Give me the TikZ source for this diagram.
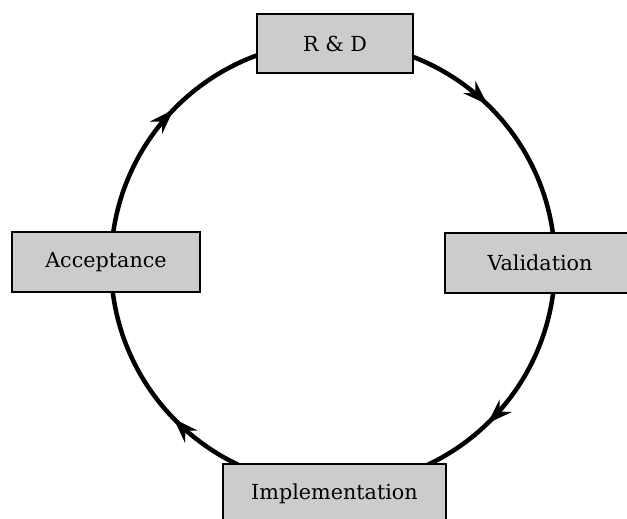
\documentclass[tikz,border=0pt]{standalone}
\usepackage{fontspec}
\setmainfont{DejaVu Serif}
\usetikzlibrary{arrows.meta,decorations.markings}
\definecolor{boxgray}{HTML}{CCCCCC}
\begin{document}
\begin{tikzpicture}[x=1pt,y=1pt,
  stage/.style={draw=black, line width=1.6pt, fill=boxgray,
    font=\fontsize{20.7}{25}\selectfont, minimum height=60pt, inner sep=0pt},
  cyclearc/.style={line width=4.5pt, postaction=decorate,
    decoration={markings, mark=at position #1 with {\arrow{Stealth[length=25pt,width=17pt,inset=8pt]}}}}
]
\useasboundingbox (0,0) rectangle (627,519);
\coordinate (ptop) at (333,477);
\coordinate (pright) at (555,255);
\coordinate (pbot) at (333,33);
\coordinate (pleft) at (111,255);
\draw[cyclearc=0.49] (ptop) arc[start angle=90, end angle=0, radius=222];
\draw[cyclearc=0.51] (pright) arc[start angle=0, end angle=-90, radius=222];
\draw[cyclearc=0.51] (pbot) arc[start angle=270, end angle=180, radius=222];
\draw[cyclearc=0.49] (pleft) arc[start angle=180, end angle=90, radius=222];
\node[stage, minimum width=156pt, minimum height=59pt] (rd) at (335,475.5) {R \& D};
\node[stage, minimum width=188pt] (acc) at (106,257) {Acceptance};
\node[stage, minimum width=190pt] (val) at (540,256) {Validation};
\node[stage, minimum width=223pt] (imp) at (334.5,25) {Implementation};
\end{tikzpicture}
\end{document}
